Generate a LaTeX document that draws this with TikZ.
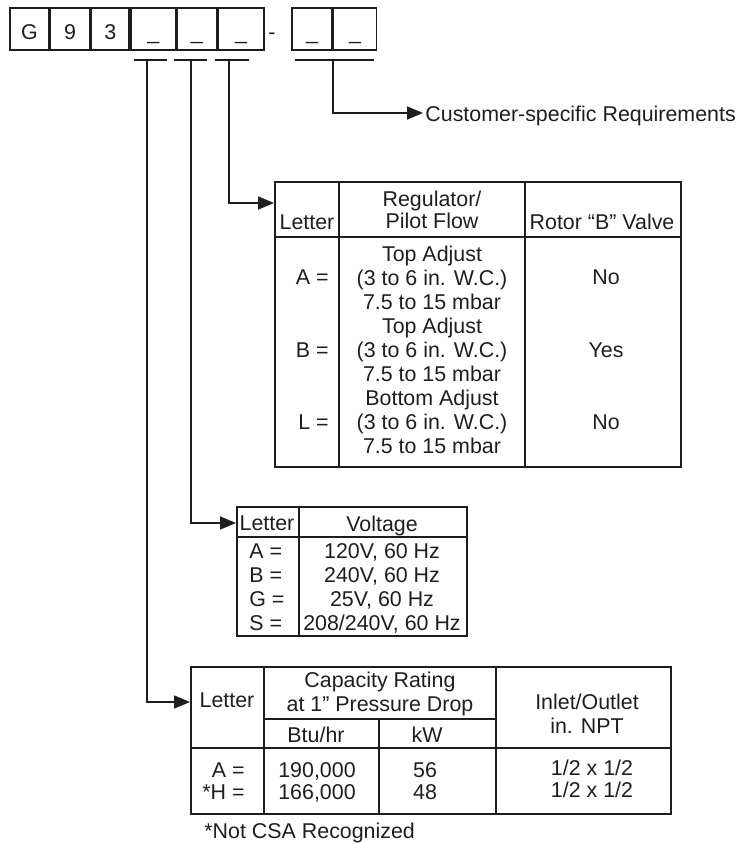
\documentclass[tikz,border=0pt]{standalone}
\usepackage{fontspec}
\setmainfont{Liberation Sans}
\usetikzlibrary{arrows.meta, positioning}
\definecolor{ink}{HTML}{1E1E1E}

\begin{document}
\begin{tikzpicture}[x=0.5pt, y=-0.5pt,
  txt/.style={inner sep=0pt, text=ink, font=\fontsize{10.7}{12}\selectfont},
  cell/.style={txt, draw=ink, line width=0.8pt, minimum height=21pt,
               text height=11pt, text depth=0pt},
  frame/.style={draw=ink, line width=0.8pt, inner sep=0pt, anchor=north west},
  rule/.style={draw=ink, line width=0.8pt},
  arrow/.style={rule, -{Triangle[length=8pt, width=6.5pt]}}
]
\useasboundingbox (0,0) rectangle (737,844);

%% --- model number cells ---
\node[cell, minimum width=19.5pt] (cG) at (29.5,29) {G};
\node[cell, minimum width=19.5pt, right=0pt of cG] (c9) {9};
\node[cell, minimum width=19pt, right=0pt of c9] (c3) {3};
\node[cell, minimum width=22.5pt, right=0pt of c3] (bA) {\_};
\node[cell, minimum width=19.5pt, right=0pt of bA] (bB) {\_};
\node[cell, minimum width=23pt, right=0pt of bB] (bC) {\_};
\node[txt, anchor=base] (dash) at (272,40) {-};
\node[cell, minimum width=20pt] (bD) at (312,29) {\_};
\node[cell, minimum width=21.5pt, right=0pt of bD] (bE) {\_};

%% --- underlines and taps ---
\draw[rule] (134,60) -- (167,60);
\draw[rule] (174,60) -- (207,60);
\draw[rule] (215,60) -- (249,60);
\draw[rule] (295,60) -- (374,60);
\coordinate (tapA) at (147,60);
\coordinate (tapB) at (191,60);
\coordinate (tapC) at (229,60);
\coordinate (tapD) at (333,60);

%% --- customer-specific ---
\coordinate (custin) at (423,113);
\node[txt, anchor=base west] (cust) at (425,122) {Customer-specific Requirements};
\draw[arrow] (tapD) |- (custin);

%% --- regulator table ---
\node[frame, minimum width=203pt, minimum height=142.5pt] (regtab) at (274,181) {};
\draw[rule] (339,181) -- (339,466) (525,181) -- (525,466) (274,237) -- (680,237);
\coordinate (regin) at (274,203);
\draw[arrow] (tapC) |- (regin);
\node[txt, anchor=base] (rlet) at (307,230) {Letter};
\node[txt, anchor=base, align=center] (rflow) at (432,229) {Regulator/\\[-1pt]Pilot Flow};
\node[txt, anchor=base] (rrot) at (602,230) {Rotor “B” Valve};
\node[txt, anchor=base, align=center] (rrows) at (432,453)
    {Top Adjust\\(3 to 6 in. W.C.)\\7.5 to 15 mbar\\
     Top Adjust\\(3 to 6 in. W.C.)\\7.5 to 15 mbar\\
     Bottom Adjust\\(3 to 6 in. W.C.)\\7.5 to 15 mbar};
\node[txt, anchor=base east] (ra) at (329,285) {A =};
\node[txt, anchor=base east] (rb) at (329,357) {B =};
\node[txt, anchor=base east] (rl) at (329,429) {L =};
\node[txt, anchor=base] (rna) at (606,285) {No};
\node[txt, anchor=base] (rnb) at (606,357) {Yes};
\node[txt, anchor=base] (rnl) at (606,429) {No};

%% --- voltage table ---
\node[frame, minimum width=115pt, minimum height=64.5pt] (volttab) at (236,506) {};
\draw[rule] (299,506) -- (299,635) (236,537) -- (466,537);
\coordinate (voltin) at (236,523);
\draw[arrow] (tapB) |- (voltin);
\node[txt, anchor=base] (vlet) at (267,530) {Letter};
\node[txt, anchor=base] (vhead) at (382,531) {Voltage};
\node[txt, anchor=base west, align=left] (vkeys) at (249,630) {A =\\B =\\G =\\S =};
\node[txt, anchor=base, align=center] (vvals) at (382,630)
    {120V, 60 Hz\\240V, 60 Hz\\25V, 60 Hz\\208/240V, 60 Hz};

%% --- capacity table ---
\node[frame, minimum width=240pt, minimum height=73.5pt] (captab) at (190,666) {};
\draw[rule] (264,666) -- (264,813) (496,666) -- (496,813) (379,719) -- (379,813)
            (264,719) -- (496,719) (190,748) -- (670,748);
\coordinate (capin) at (190,702);
\draw[arrow] (tapA) |- (capin);
\node[txt, anchor=base] (clet) at (227,707) {Letter};
\node[txt, anchor=base, align=center] (crate) at (380,711) {Capacity Rating\\at 1” Pressure Drop};
\node[txt, anchor=base] (cbtu) at (316,742) {Btu/hr};
\node[txt, anchor=base] (ckw) at (427,742) {kW};
\node[txt, anchor=base, align=center] (cnpt) at (587,733) {Inlet/Outlet\\in. NPT};
\node[txt, anchor=base east, align=right] (ckeys) at (245,799) {A =\\[-1pt]*H =};
\node[txt, anchor=base, align=center] (cbtuv) at (317,799) {190,000\\[-1pt]166,000};
\node[txt, anchor=base, align=center] (ckwv) at (425,799) {56\\[-1pt]48};
\node[txt, anchor=base, align=center] (cnptv) at (592,797) {1/2 x 1/2\\[-1pt]1/2 x 1/2};
\node[txt, anchor=base west] (cnote) at (204,838) {*Not CSA Recognized};

\end{tikzpicture}
\end{document}
